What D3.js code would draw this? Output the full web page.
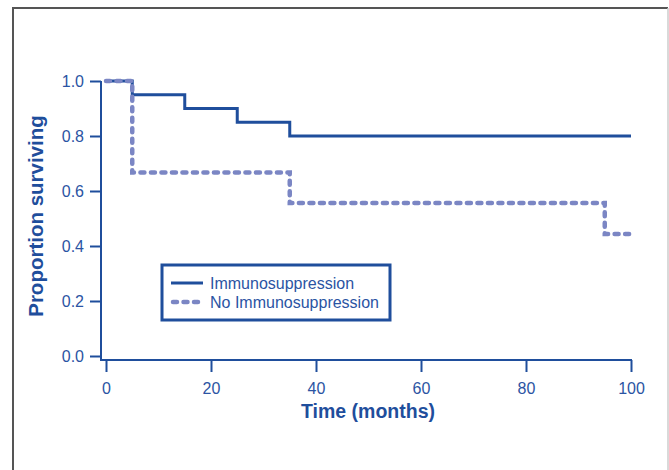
<!DOCTYPE html>
<html><head><meta charset="utf-8">
<script src="https://cdn.jsdelivr.net/npm/d3@7"></script>
<style>body{margin:0;background:#fff}svg{display:block;font-family:"Liberation Sans",Arial,sans-serif}</style>
</head><body><svg id="c" width="669" height="470"></svg>
<script>
const immunoTimes = [0, 5, 15, 25, 35, 100];
const immunoSurv  = [1.0, 0.95, 0.90, 0.85, 0.80, 0.80];
const noImmunoTimes = [0, 5, 35, 95, 100];
const noImmunoSurv  = [1.0, 0.667, 0.556, 0.444, 0.444];
const xTicks = [0, 20, 40, 60, 80, 100];
const yTicks = [0.0, 0.2, 0.4, 0.6, 0.8, 1.0];
const seriesNames = ["Immunosuppression", "No Immunosuppression"];

const blue = "#1f4e9c", light = "#7b86c4", txt = "#2b54a3";
const svg = d3.select("#c");
// frame
svg.append("line").attr("x1",12).attr("x2",668).attr("y1",8).attr("y2",8).attr("stroke","#555").attr("stroke-width",2);
svg.append("line").attr("x1",13).attr("x2",13).attr("y1",7).attr("y2",470).attr("stroke","#555").attr("stroke-width",2);
svg.append("line").attr("x1",668).attr("x2",668).attr("y1",8).attr("y2",470).attr("stroke","#ccc").attr("stroke-width",1.5);

const x = d3.scaleLinear().domain([0,100]).range([106,631]);
const y = d3.scaleLinear().domain([0,1]).range([356,81]);

// y axis
const yAx = svg.append("g").attr("transform","translate(101,0)")
  .call(d3.axisLeft(y).tickValues(yTicks).tickFormat(d3.format(".1f")).tickSize(11).tickPadding(6));
yAx.select(".domain").remove();
svg.append("line").attr("x1",101).attr("x2",101).attr("y1",81).attr("y2",360).attr("stroke",blue).attr("stroke-width",2);
// x axis
const xAx = svg.append("g").attr("transform","translate(0,360)")
  .call(d3.axisBottom(x).tickValues(xTicks).tickSize(12).tickPadding(11));
xAx.select(".domain").remove();
svg.append("line").attr("x1",100).attr("x2",632).attr("y1",360).attr("y2",360).attr("stroke",blue).attr("stroke-width",2);
svg.selectAll(".tick line").attr("stroke",blue).attr("stroke-width",2);
svg.selectAll(".tick text").attr("fill",txt).style("font-size","16px").style("font-family","Liberation Sans, Arial, sans-serif");

// titles
svg.append("text").attr("x",368).attr("y",418).attr("text-anchor","middle").attr("fill",blue)
  .style("font-size","19.5px").style("font-weight","bold").text("Time (months)");
svg.append("text").attr("transform","translate(43,216) rotate(-90)").attr("text-anchor","middle").attr("fill",blue)
  .style("font-size","20.5px").style("font-weight","bold").text("Proportion surviving");

const line = d3.line().x(d=>x(d[0])).y(d=>y(d[1])).curve(d3.curveStepAfter);
svg.append("path").datum(immunoTimes.map((t,i)=>[t,immunoSurv[i]]))
  .attr("d",line).attr("fill","none").attr("stroke",blue).attr("stroke-width",3);
svg.append("path").datum(noImmunoTimes.map((t,i)=>[t,noImmunoSurv[i]]))
  .attr("d",line).attr("fill","none").attr("stroke",light).attr("stroke-width",4.5)
  .attr("stroke-dasharray","4 6.5").attr("stroke-linecap","round");

// legend
const lg = svg.append("g");
lg.append("rect").attr("x",162).attr("y",265).attr("width",228).attr("height",55)
  .attr("fill","#fff").attr("stroke",blue).attr("stroke-width",3);
const styles = [{c:blue,w:3,d:null,cap:"butt"},{c:light,w:4.5,d:"4 6.5",cap:"round"}];
seriesNames.forEach((n,i)=>{
  const yy = 283 + i*19;
  lg.append("line").attr("x1",i?173:171).attr("x2",203).attr("y1",yy).attr("y2",yy)
    .attr("stroke",styles[i].c).attr("stroke-width",styles[i].w).attr("stroke-dasharray",styles[i].d).attr("stroke-linecap",styles[i].cap);
  lg.append("text").attr("x",210).attr("y",yy+5.5).attr("fill",txt).style("font-size","16px").text(n);
});
</script></body></html>
